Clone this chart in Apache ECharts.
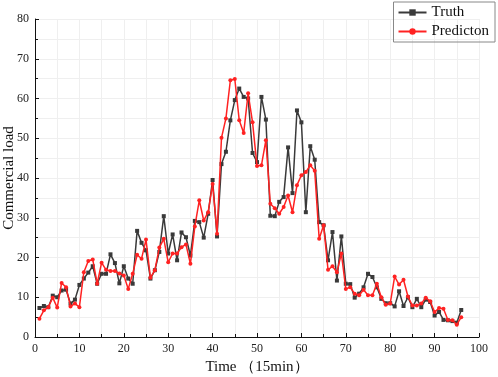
<!DOCTYPE html>
<html>
<head>
<meta charset="utf-8">
<script src="https://cdn.jsdelivr.net/npm/echarts@6/dist/echarts.min.js"></script>
<style>
  html, body { margin: 0; padding: 0; background: #fff; }
  #chart { width: 498px; height: 377px; }
</style>
</head>
<body>
<div id="chart"></div>
<script>
var timeSteps = [1,2,3,4,5,6,7,8,9,10,11,12,13,14,15,16,17,18,19,20,
  21,22,23,24,25,26,27,28,29,30,31,32,33,34,35,36,37,38,39,40,
  41,42,43,44,45,46,47,48,49,50,51,52,53,54,55,56,57,58,59,60,
  61,62,63,64,65,66,67,68,69,70,71,72,73,74,75,76,77,78,79,80,
  81,82,83,84,85,86,87,88,89,90,91,92,93,94,95,96]

var truth = [7.3,7.8,7.5,10.4,10.0,11.7,11.9,8.4,9.4,13.1,
  14.7,16.2,17.8,13.4,15.9,15.9,20.8,18.6,13.5,17.8,
  14.7,13.4,26.7,23.7,21.8,14.7,16.8,21.4,30.4,21.0,
  25.8,19.3,26.3,25.1,20.5,29.2,28.9,25.0,31.0,39.5,
  25.3,43.5,46.6,54.5,59.6,62.5,60.4,60.0,46.3,44.0,
  60.4,54.7,30.5,30.4,34.0,35.2,47.7,36.2,57.0,54.0,
  31.4,48.0,44.6,28.9,28.1,19.3,26.4,14.2,25.3,13.4,
  13.3,9.9,10.9,12.5,15.9,15.1,12.5,9.6,8.5,8.5,
  7.7,11.5,7.8,10.0,7.5,9.6,7.5,9.4,8.8,5.4,
  6.3,4.3,4.2,4.0,3.6,6.8]

var prediction = [4.6,6.7,7.5,9.9,7.4,13.6,12.5,7.7,8.4,7.5,
  16.3,19.1,19.5,13.4,18.7,16.9,16.6,16.6,16.0,15.5,
  12.1,15.9,20.7,19.7,24.5,14.9,16.8,22.5,24.7,18.8,
  21.0,21.0,22.6,23.3,18.4,27.8,34.4,29.3,31.4,38.5,
  26.0,50.1,55.0,64.6,64.9,54.5,51.3,61.3,54.0,43.0,
  43.2,49.5,33.5,32.4,31.0,32.7,35.6,31.4,38.2,40.7,
  41.5,43.2,41.8,24.7,28.1,16.9,17.8,16.3,21.0,12.1,
  12.5,10.9,10.5,11.9,10.5,10.5,13.4,10.0,8.1,8.4,
  15.2,13.2,14.4,10.2,7.9,7.9,8.4,9.9,9.0,6.3,
  7.3,7.1,4.3,4.2,3.1,5.0]

var serif = 'Liberation Serif, Times New Roman, serif'

function pairs(values) {
  var out = []
  for (var i = 0; i < values.length; i++) {
    out.push([timeSteps[i], values[i]])
  }
  return out
}

var gridLine = { show: true, lineStyle: { color: '#efefef', width: 1 } }

var myChart = echarts.init(document.getElementById('chart'))
myChart.setOption({
  animation: false,
  textStyle: { fontFamily: serif },
  grid: { left: 35, right: 19, top: 19, bottom: 40, outerBoundsMode: 'none' },
  legend: {
    right: 3, top: 2,
    orient: 'vertical',
    itemWidth: 28, itemHeight: 8, itemGap: 4,
    padding: [3, 6, 3, 4],
    borderColor: '#888', borderWidth: 1,
    textStyle: { fontFamily: serif, fontSize: 15, color: '#111' },
    data: ['Truth', 'Predicton']
  },
  xAxis: {
    type: 'value', min: 0, max: 100, interval: 10,
    name: 'Time （15min）', nameLocation: 'middle', nameGap: 23, nameMoveOverlap: false,
    nameTextStyle: { fontFamily: serif, fontSize: 15, color: '#111', verticalAlign: 'top' },
    axisLine: { show: true, onZero: false, lineStyle: { color: '#111', width: 1 } },
    axisTick: { show: true, inside: true, length: 4, lineStyle: { color: '#111' } },
    minorTick: { show: true, splitNumber: 2, length: 3, lineStyle: { color: '#111' } },
    axisLabel: { fontFamily: serif, fontSize: 12, color: '#222', margin: 6 },
    splitLine: gridLine,
    minorSplitLine: gridLine
  },
  yAxis: {
    type: 'value', min: 0, max: 80, interval: 10,
    name: 'Commercial load', nameLocation: 'middle', nameGap: 18, nameMoveOverlap: false,
    nameTextStyle: { fontFamily: serif, fontSize: 15, color: '#111', verticalAlign: 'bottom' },
    axisLine: { show: true, lineStyle: { color: '#111', width: 1 } },
    axisTick: { show: true, inside: true, length: 4, lineStyle: { color: '#111' } },
    minorTick: { show: true, splitNumber: 2, length: 3, lineStyle: { color: '#111' } },
    axisLabel: { fontFamily: serif, fontSize: 12, color: '#222', margin: 6 },
    splitLine: gridLine,
    minorSplitLine: gridLine
  },
  series: [
    {
      name: 'Truth', type: 'line', data: pairs(truth),
      symbol: 'rect', symbolSize: 4, z: 2,
      itemStyle: { color: '#3a3a3a' },
      lineStyle: { color: '#3a3a3a', width: 1.5 }
    },
    {
      name: 'Predicton', type: 'line', data: pairs(prediction),
      symbol: 'circle', symbolSize: 4, z: 3,
      itemStyle: { color: '#ff2222' },
      lineStyle: { color: '#ff2222', width: 1.5 }
    }
  ]
})
</script>
</body>
</html>
